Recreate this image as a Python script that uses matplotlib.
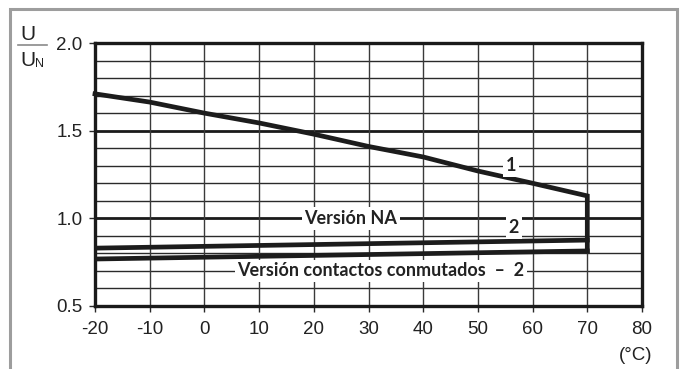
import matplotlib
matplotlib.use("Agg")
import matplotlib.pyplot as plt
import matplotlib.patches as patches
import numpy as np

plt.rcParams["axes.unicode_minus"] = False

# data
temps = [-20, -10, 0, 10, 20, 30, 40, 50, 60, 70]
u_curve1 = [1.71, 1.663, 1.60, 1.544, 1.48, 1.41, 1.35, 1.27, 1.20, 1.128]
t_ends = [-20, 70]
u_na = [0.830, 0.876]
u_conm = [0.768, 0.814]

x_ticks = [-20, -10, 0, 10, 20, 30, 40, 50, 60, 70, 80]
y_ticks = [0.5, 1.0, 1.5, 2.0]

W, H = 687, 369
fig = plt.figure(figsize=(W / 100, H / 100), dpi=100)
fig.patch.set_facecolor("white")

# grey outer frame (open at the bottom)
frame = patches.Rectangle((10 / W, -0.2), 667 / W, 1.2 - 9 / H,
                          transform=fig.transFigure, fill=False,
                          edgecolor="#9d9d9d", lw=2.2, clip_on=False)
fig.patches.append(frame)

ax = fig.add_axes([95 / W, 1 - 306 / H, (642 - 95) / W, (306 - 43) / H])
ax.set_xlim(-20, 80)
ax.set_ylim(0.5, 2.0)

# grid
for yv in np.arange(0.6, 2.0, 0.1):
    yv = round(yv, 1)
    heavy = yv in (1.0, 1.5)
    ax.axhline(yv, color="#1a1a1a" if heavy else "#2a2a2a",
               lw=2.0 if heavy else 1.0, zorder=1)
for xv in x_ticks[1:-1]:
    ax.axvline(xv, color="#3a3a3a", lw=1.0, zorder=1)

for s in ax.spines.values():
    s.set_linewidth(2.4)
    s.set_color("#1a1a1a")

ax.set_xticks(x_ticks)
ax.set_yticks(y_ticks)
ax.set_xticklabels([str(v) for v in x_ticks])
ax.set_yticklabels([f"{v:.1f}" for v in y_ticks])
ax.tick_params(axis="both", direction="out", length=4, width=1.0,
               color="#2a2a2a", labelsize=13.5, labelcolor="#222222")
ax.tick_params(axis="x", pad=7)
ax.tick_params(axis="y", pad=5)
for lab in ax.get_xticklabels() + ax.get_yticklabels():
    lab.set_family("Liberation Sans")

# curves
ax.plot(temps + [temps[-1]], u_curve1 + [u_conm[-1]], color="#1c1c1c",
        lw=3.4, solid_joinstyle="miter", zorder=3, clip_on=False)
ax.plot(t_ends, u_na, color="#1c1c1c", lw=3.4, zorder=3)
ax.plot(t_ends, u_conm, color="#1c1c1c", lw=3.4, zorder=3)

lab_kw = dict(fontsize=13, fontweight="bold", family="Lato",
              color="#222222", ha="center", va="center", zorder=4,
              bbox=dict(boxstyle="square,pad=0.15", fc="white", ec="none"))
ax.text(56.0, 1.3, "1", **lab_kw)
ax.text(56.6, 0.945, "2", **lab_kw)
ax.text(26.8, 1.0, "Versión NA", **lab_kw)
ax.text(32.3, 0.70, "Versión contactos conmutados  –  2", **lab_kw)

# y label: U / U_N
fig.text(28 / W, 1 - 34 / H, "U", fontsize=15, family="Liberation Sans",
         ha="center", va="center", color="#222222")
fig.add_artist(plt.Line2D([18 / W, 47 / W], [1 - 45 / H, 1 - 45 / H],
                          transform=fig.transFigure, color="#8a8a8a", lw=1.2))
fig.text(28 / W, 1 - 60 / H, "U", fontsize=15, family="Liberation Sans",
         ha="center", va="center", color="#222222")
fig.text(39 / W, 1 - 64 / H, "N", fontsize=9, family="Liberation Sans",
         ha="center", va="center", color="#222222")

fig.text(636 / W, 1 - 355 / H, "(°C)", fontsize=13.5, family="Liberation Sans",
         ha="center", va="center", color="#222222")

fig.savefig("out.png", dpi=100)
